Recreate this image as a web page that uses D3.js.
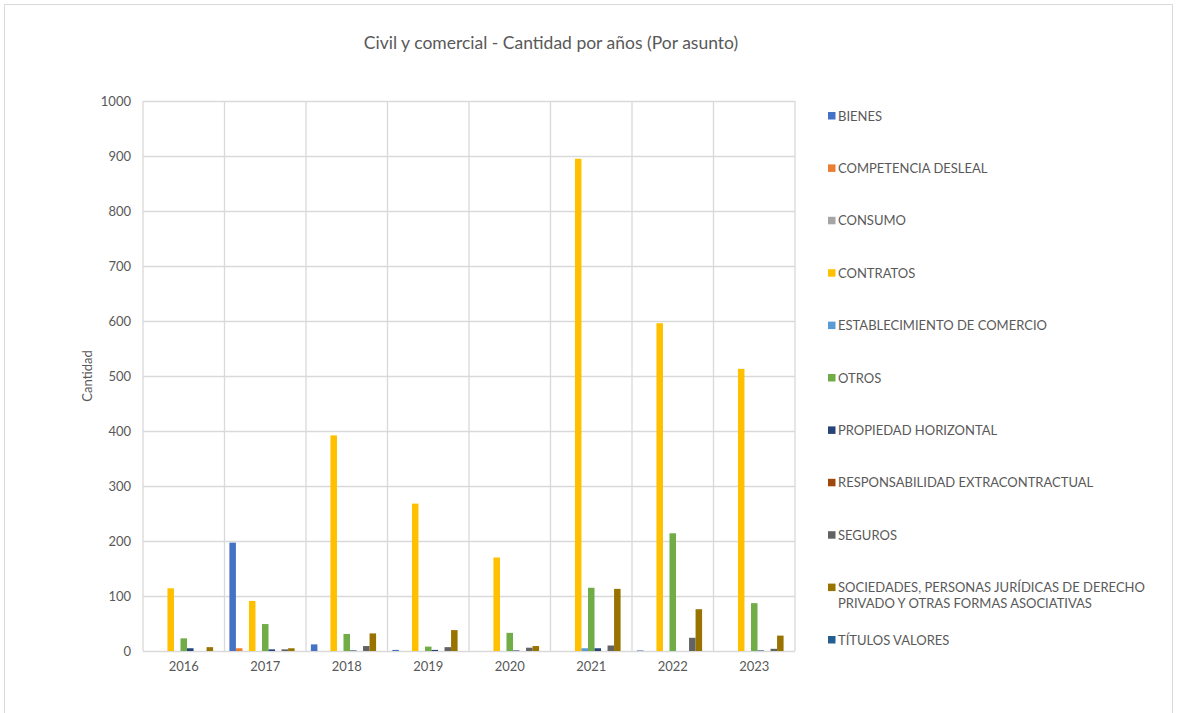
<!DOCTYPE html>
<html>
<head>
<meta charset="utf-8">
<script src="https://cdn.jsdelivr.net/npm/d3@7"></script>
<style>
  body { margin: 0; background: #fff; }
  text { font-family: "Lato", "Open Sans", sans-serif; fill: #595959; }
</style>
</head>
<body>
<svg width="1178" height="713"></svg>
<script>
const years = ["2016", "2017", "2018", "2019", "2020", "2021", "2022", "2023"];
const series = [
    "BIENES", "COMPETENCIA DESLEAL", "CONSUMO", "CONTRATOS",
    "ESTABLECIMIENTO DE COMERCIO", "OTROS", "PROPIEDAD HORIZONTAL",
    "RESPONSABILIDAD EXTRACONTRACTUAL", "SEGUROS",
    "SOCIEDADES, PERSONAS JURÍDICAS DE DERECHO PRIVADO Y OTRAS FORMAS ASOCIATIVAS",
    "TÍTULOS VALORES"
];
const colors = ["#4472c4", "#ed7d31", "#a5a5a5", "#ffc000", "#5b9bd5", "#70ad47",
    "#264478", "#9e480e", "#636363", "#997300", "#255e91"];

// one array per series, values for 2016..2023
const bienes          = [0, 197, 12, 2, 0, 0, 1, 0];
const competencia     = [0, 5, 0, 0, 0, 0, 0, 0];
const consumo         = [0, 0, 0, 0, 0, 0, 0, 0];
const contratos       = [114, 91, 392, 268, 170, 895, 596, 513];
const establecimiento = [0, 0, 0, 0, 0, 5, 0, 0];
const otros           = [23, 49, 31, 8, 33, 115, 214, 87];
const propiedad       = [5, 3, 1, 2, 1, 5, 0, 1];
const responsabilidad = [0, 0, 0, 0, 0, 0, 0, 0];
const seguros         = [0, 3, 9, 7, 6, 10, 24, 4];
const sociedades      = [7, 5, 32, 38, 9, 113, 76, 28];
const titulos         = [0, 0, 0, 0, 0, 0, 0, 0];
const values = [bienes, competencia, consumo, contratos, establecimiento, otros,
    propiedad, responsabilidad, seguros, sociedades, titulos];
const yTicks = [0, 100, 200, 300, 400, 500, 600, 700, 800, 900, 1000];

const svg = d3.select("svg");
const plot = { left: 143, right: 795, top: 101, bottom: 651 };

// chart border
svg.append("rect")
    .attr("x", 4.5).attr("y", 4.5)
    .attr("width", 1168).attr("height", 720)
    .attr("fill", "none").attr("stroke", "#d9d9d9");

svg.append("text")
    .attr("x", 551).attr("y", 49)
    .attr("text-anchor", "middle")
    .style("font-size", "17.5px")
    .text("Civil y comercial - Cantidad por años (Por asunto)");

const x0 = d3.scaleBand().domain(years).range([plot.left, plot.right]).padding(0);
const x1 = d3.scaleBand().domain(d3.range(series.length))
    .range([0, x0.bandwidth()]).paddingInner(0).paddingOuter(0.75);
const y = d3.scaleLinear().domain([0, 1000]).range([plot.bottom, plot.top]);

// horizontal gridlines
svg.append("g")
    .attr("transform", `translate(${plot.left},0)`)
    .call(d3.axisLeft(y).tickValues(yTicks).tickSize(-(plot.right - plot.left)).tickFormat(""))
    .call(g => g.select(".domain").remove())
    .call(g => g.selectAll("line").attr("stroke", "#d9d9d9").attr("stroke-width", 1.3));

// vertical gridlines at category boundaries
svg.append("g").selectAll("line")
    .data(years.concat(["end"]))
    .join("line")
    .attr("x1", (d, i) => plot.left + i * x0.step())
    .attr("x2", (d, i) => plot.left + i * x0.step())
    .attr("y1", plot.top).attr("y2", plot.bottom)
    .attr("stroke", "#d9d9d9").attr("stroke-width", 1.3);

// y tick labels
svg.append("g")
    .attr("transform", `translate(${plot.left},0)`)
    .call(d3.axisLeft(y).tickValues(yTicks).tickSize(0).tickPadding(12).tickFormat(d3.format("d")))
    .call(g => g.select(".domain").remove())
    .call(g => g.selectAll("text").style("font-size", "13px").style("font-family", "Lato, sans-serif").attr("fill", "#595959"));

// x labels
svg.append("g")
    .attr("transform", `translate(0,${plot.bottom})`)
    .call(d3.axisBottom(x0).tickSize(0).tickPadding(11))
    .call(g => g.select(".domain").remove())
    .call(g => g.selectAll("text").style("font-size", "13px").style("font-family", "Lato, sans-serif").attr("fill", "#595959"));

svg.append("text")
    .attr("transform", "translate(92,376) rotate(-90)")
    .attr("text-anchor", "middle")
    .style("font-size", "13px")
    .text("Cantidad");

// bars
const groups = svg.append("g").selectAll("g")
    .data(years)
    .join("g")
    .attr("transform", d => `translate(${x0(d)},0)`);

groups.selectAll("rect")
    .data((d, yi) => values.map((arr, si) => ({ si, v: arr[yi] })))
    .join("rect")
    .attr("x", d => x1(d.si))
    .attr("width", x1.bandwidth())
    .attr("y", d => y(d.v))
    .attr("height", d => y(0) - y(d.v))
    .attr("fill", d => colors[d.si]);

// legend
const legend = svg.append("g").selectAll("g")
    .data(series)
    .join("g")
    .attr("transform", (d, i) => `translate(828,${116 + i * 52.4})`);

legend.append("rect")
    .attr("x", 0).attr("y", -4)
    .attr("width", 7.5).attr("height", 7.5)
    .attr("fill", (d, i) => colors[i]);

legend.append("text")
    .attr("x", 10).attr("y", 0)
    .attr("dy", "0.35em")
    .style("font-size", "13px")
    .each(function (d) {
        const t = d3.select(this);
        if (d.startsWith("SOCIEDADES")) {
            t.append("tspan").attr("x", 10).text("SOCIEDADES, PERSONAS JURÍDICAS DE DERECHO");
            t.append("tspan").attr("x", 10).attr("dy", "1.25em").text("PRIVADO Y OTRAS FORMAS ASOCIATIVAS");
        } else {
            t.text(d);
        }
    });
</script>
</body>
</html>
